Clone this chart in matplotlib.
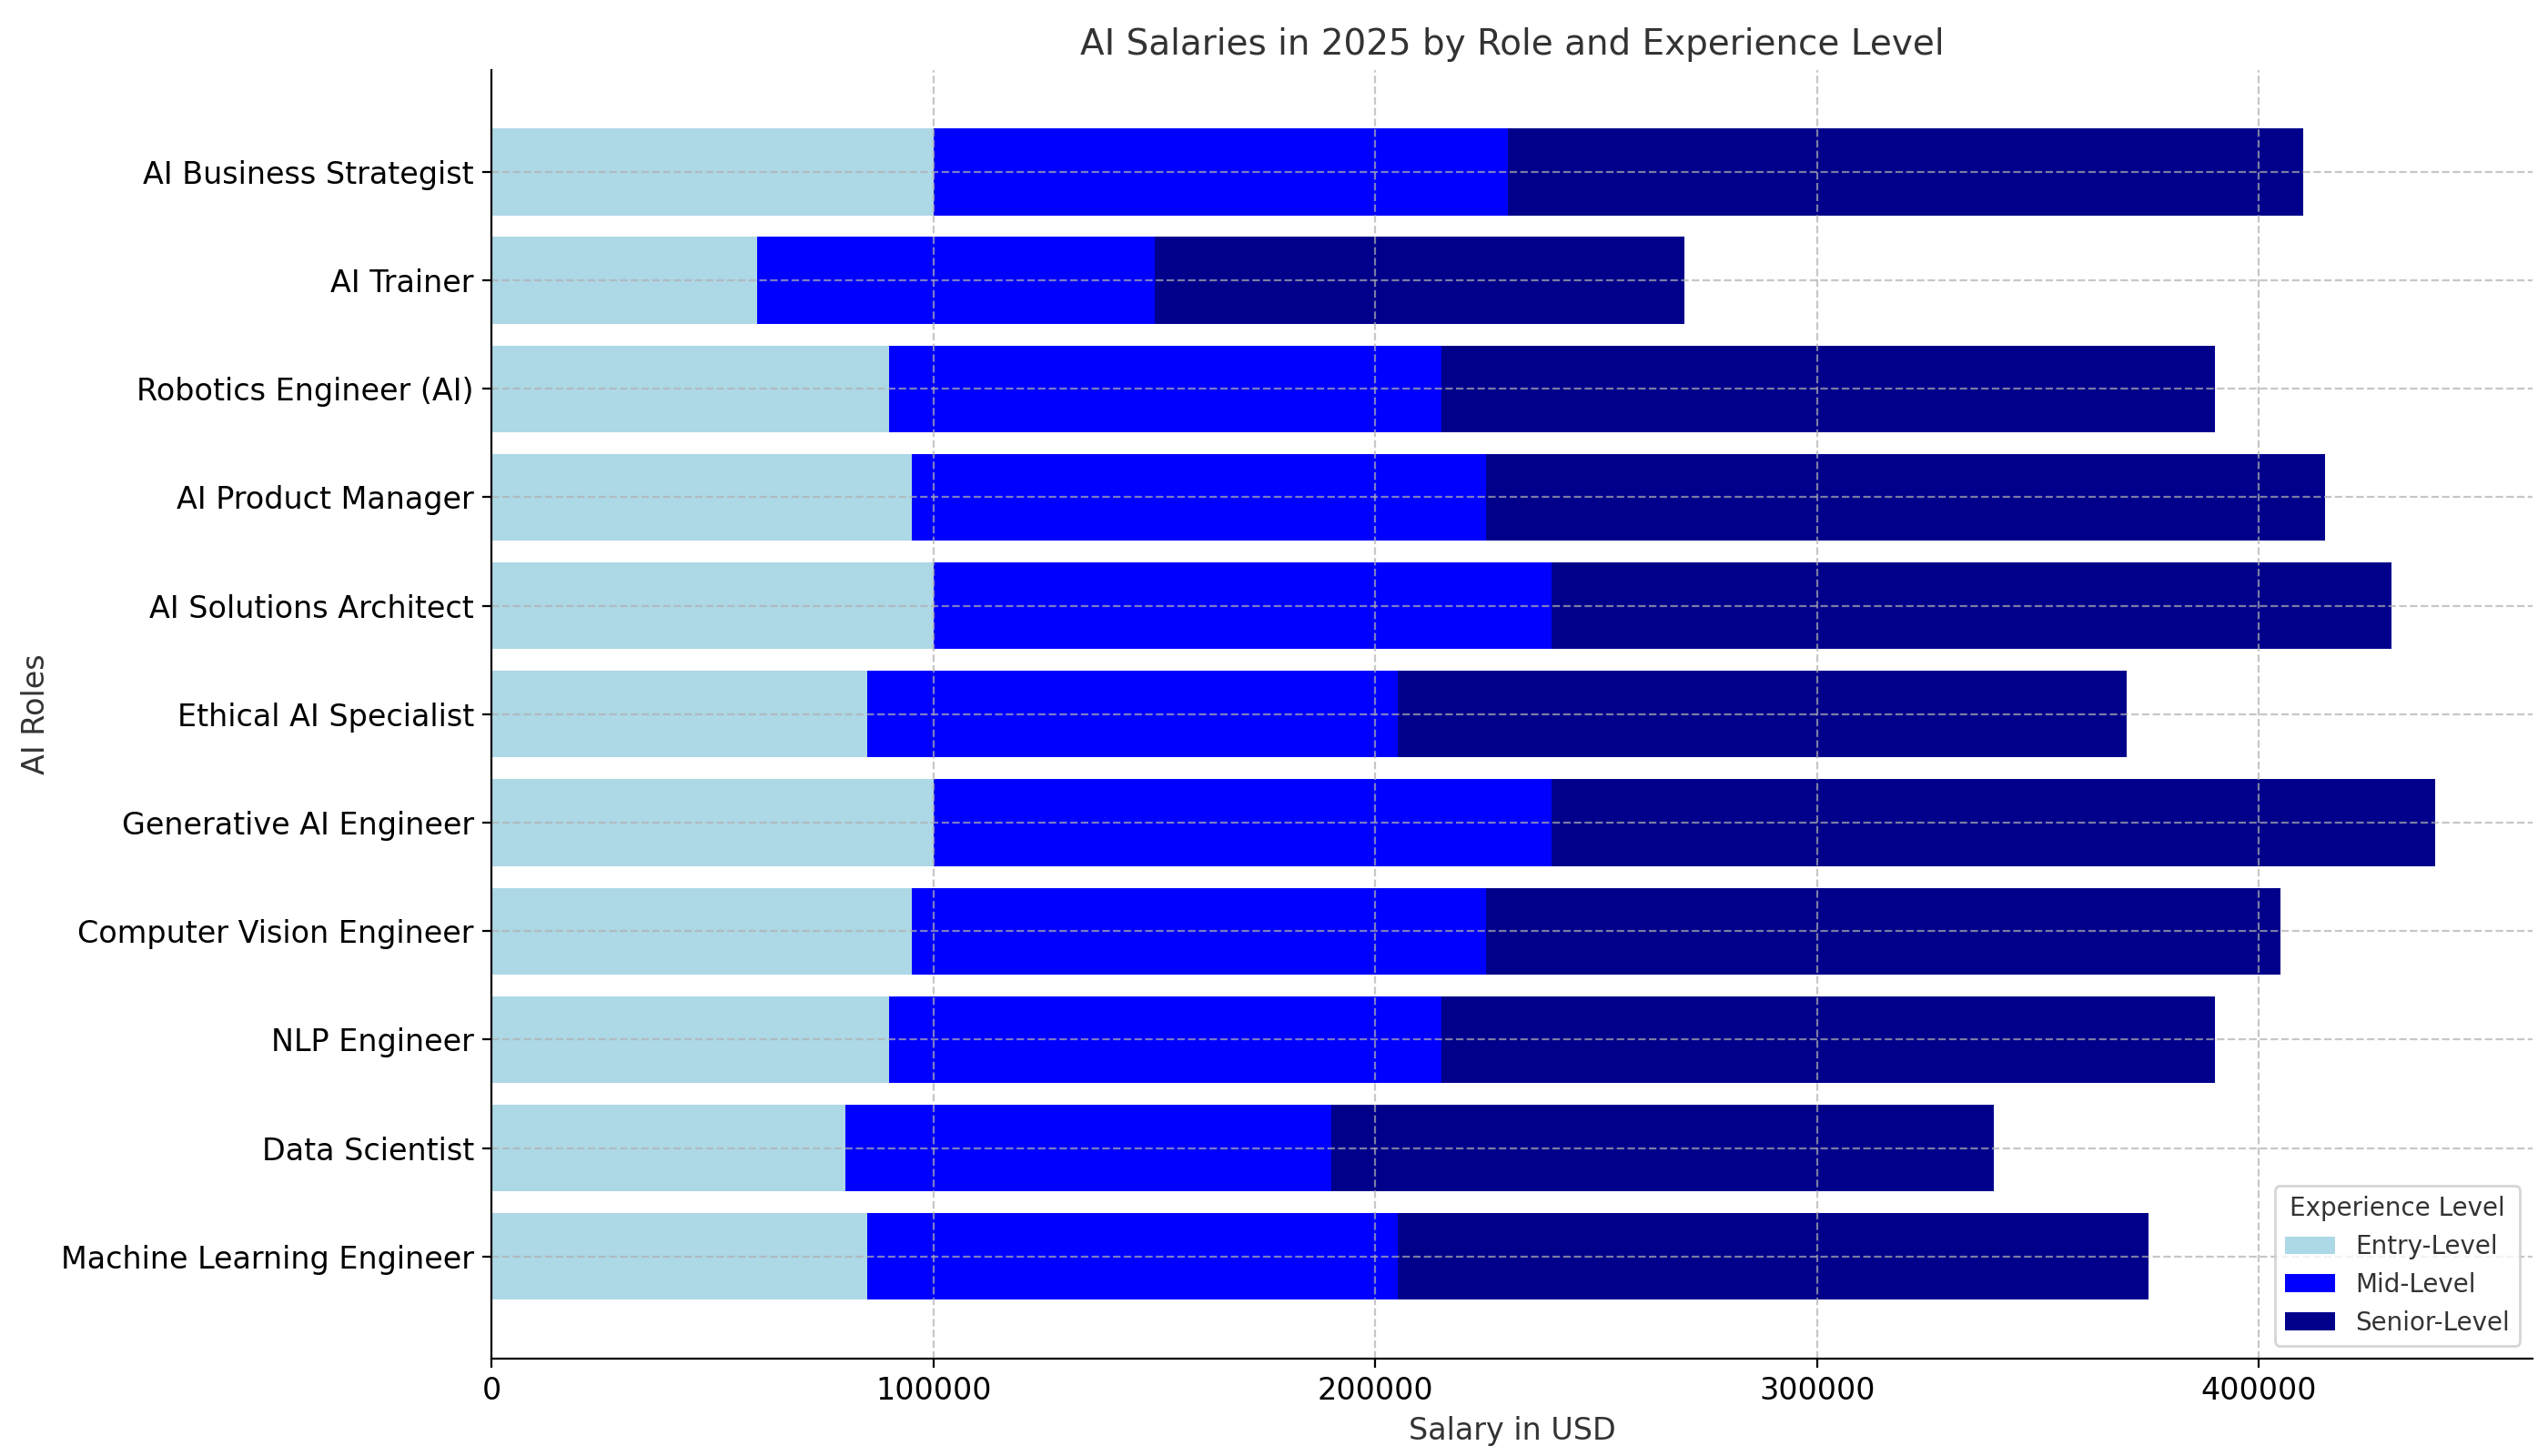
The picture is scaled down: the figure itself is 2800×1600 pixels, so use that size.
import matplotlib
matplotlib.use("Agg")
import matplotlib.pyplot as plt
import numpy as np

roles = ["Machine Learning Engineer", "Data Scientist", "NLP Engineer",
         "Computer Vision Engineer", "Generative AI Engineer", "Ethical AI Specialist",
         "AI Solutions Architect", "AI Product Manager", "Robotics Engineer (AI)",
         "AI Trainer", "AI Business Strategist"]
entry = [85000, 80000, 90000, 95000, 100000, 85000, 100000, 95000, 90000, 60000, 100000]
mid = [120000, 110000, 125000, 130000, 140000, 120000, 140000, 130000, 125000, 90000, 130000]
senior = [170000, 150000, 175000, 180000, 200000, 165000, 190000, 190000, 175000, 120000, 180000]

fig, ax = plt.subplots(figsize=(14, 8), dpi=200)
entry_a = np.array(entry)
mid_a = np.array(mid)
senior_a = np.array(senior)
ax.barh(roles, entry_a, color="lightblue", label="Entry-Level")
ax.barh(roles, mid_a, left=entry_a, color="blue", label="Mid-Level")
ax.barh(roles, senior_a, left=entry_a + mid_a, color="darkblue", label="Senior-Level")

ax.set_title("AI Salaries in 2025 by Role and Experience Level", fontsize=14, color="#333333")
ax.set_xlabel("Salary in USD", fontsize=12, color="#333333")
ax.set_ylabel("AI Roles", fontsize=12, color="#333333")
ax.tick_params(axis="both", labelsize=12)
ax.grid(True, linestyle="--", alpha=0.7)
ax.spines["top"].set_visible(False)
ax.spines["right"].set_visible(False)
leg = ax.legend(title="Experience Level", loc="lower right", fontsize=10, title_fontsize=10)
for t in leg.get_texts():
    t.set_color("#333333")
leg.get_title().set_color("#333333")
fig.subplots_adjust(left=0.193, right=0.994, top=0.952, bottom=0.067)
fig.savefig("out.png", dpi=200)
